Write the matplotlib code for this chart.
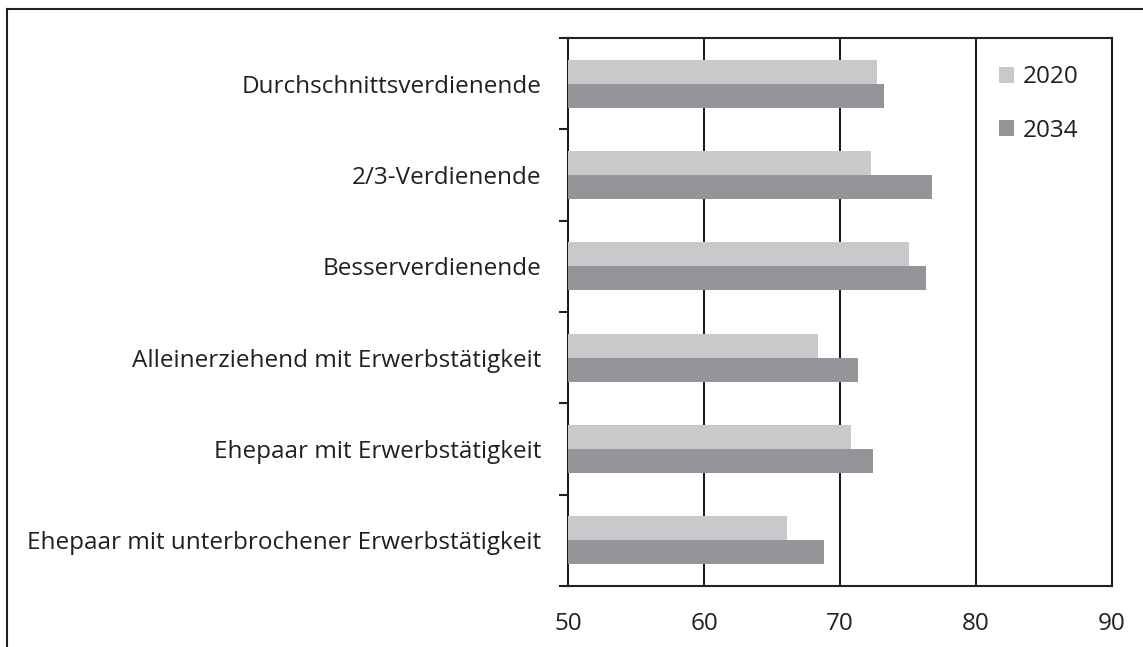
import numpy as np
import matplotlib
matplotlib.use('Agg')
import matplotlib.pyplot as plt
from matplotlib.patches import Patch
from matplotlib.lines import Line2D

plt.rcParams['font.family'] = ['Open Sans', 'DejaVu Sans']

# ─── Data ───
categories = [
    'Durchschnittsverdienende',
    '2/3-Verdienende',
    'Besserverdienende',
    'Alleinerziehend mit Erwerbstätigkeit',
    'Ehepaar mit Erwerbstätigkeit',
    'Ehepaar mit unterbrochener Erwerbstätigkeit',
]
values_2020 = [72.7, 72.3, 75.1, 68.4, 70.8, 66.1]
values_2034 = [73.2, 76.8, 76.3, 71.3, 72.4, 68.8]
series_labels = ['2020', '2034']
x_ticks = [50, 60, 70, 80, 90]

COL_2020 = '#c8c9ca'
COL_2034 = '#959599'
INK = '#231f20'
FS = 17.5

fig = plt.figure(figsize=(11.43, 6.47), dpi=100)
ax = fig.add_axes([568 / 1143, 1 - 586 / 647, (1112 - 568) / 1143, (586 - 38) / 647])

y = np.arange(len(categories))
h = 0.263
ax.barh(y - h / 2, np.array(values_2020) - 50, left=50, height=h, color=COL_2020, zorder=3)
ax.barh(y + h / 2, np.array(values_2034) - 50, left=50, height=h, color=COL_2034, zorder=3)

ax.set_xlim(50, 90)
ax.set_ylim(len(categories) - 0.5, -0.5)

# x axis: labels only, vertical grid lines
ax.set_xticks(x_ticks)
ax.tick_params(axis='x', length=0, pad=19, labelsize=FS, labelcolor=INK)
for xv in x_ticks[1:-1]:
    ax.axvline(xv, color=INK, lw=1.5, zorder=2)

# y axis: ticks on category boundaries, labels at centres
ax.set_yticks(np.arange(-0.5, len(categories) + 0.5, 1.0))
ax.set_yticklabels([])
ax.tick_params(axis='y', which='major', length=6.5, width=1.5, color=INK, direction='out')
ax.set_yticks(y, minor=True)
ax.set_yticklabels(categories, minor=True)
ax.tick_params(axis='y', which='minor', length=0, pad=19, labelsize=FS, labelcolor=INK)

for sp in ax.spines.values():
    sp.set_color(INK)
    sp.set_linewidth(1.5)

# Legend
handles = [Patch(facecolor=COL_2020, label=series_labels[0]),
           Patch(facecolor=COL_2034, label=series_labels[1])]
ax.legend(handles=handles, loc='upper left', bbox_to_anchor=(0.752, 0.99),
          frameon=False, fontsize=FS, handlelength=0.62, handleheight=0.62,
          handletextpad=0.37, labelspacing=1.2, labelcolor=INK)

# Outer frame lines (top and left)
fig.add_artist(Line2D([7 / 1143, 1], [1 - 9 / 647, 1 - 9 / 647], color=INK, lw=1.5))
fig.add_artist(Line2D([7 / 1143, 7 / 1143], [0, 1 - 9 / 647], color=INK, lw=1.5))

fig.savefig('out.png', dpi=100, facecolor='white')
plt.close(fig)
